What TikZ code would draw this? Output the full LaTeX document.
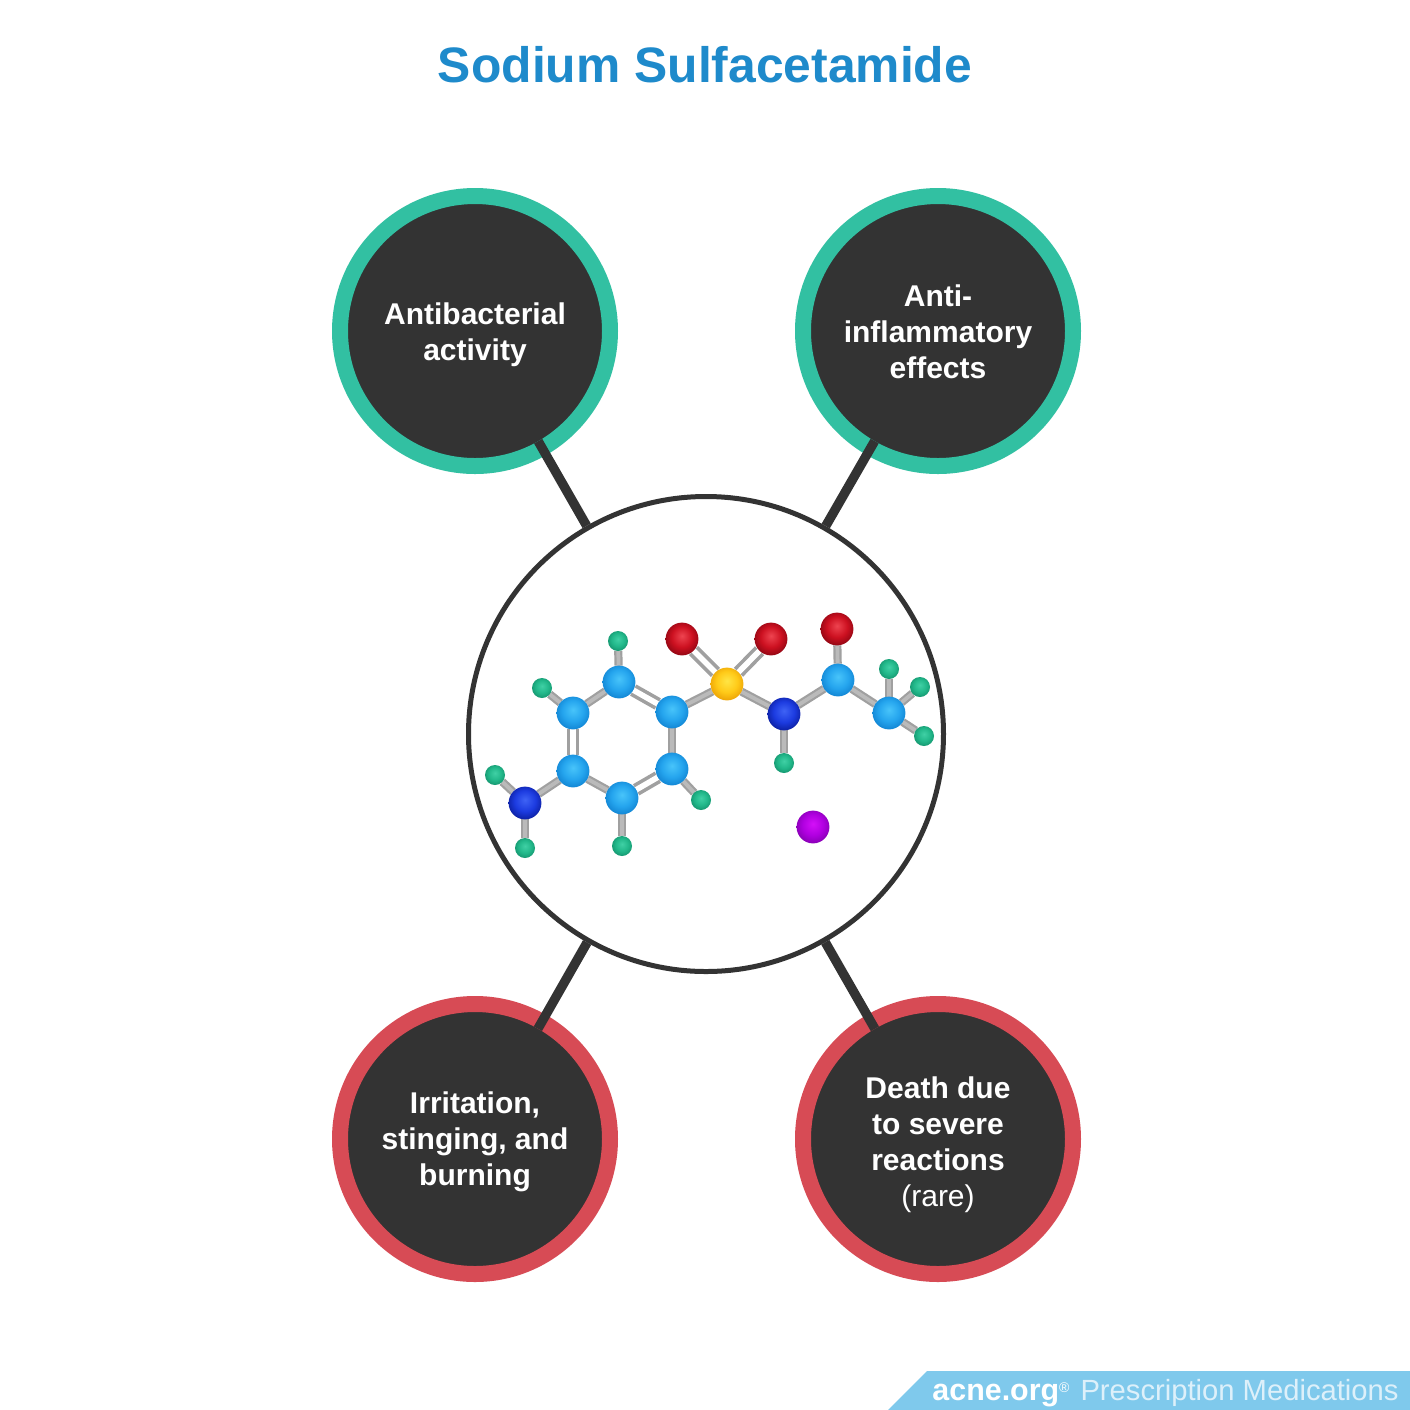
\documentclass[tikz,border=0pt]{standalone}
\usepackage{fontspec}
\setmainfont{Liberation Sans}
\usetikzlibrary{backgrounds}

\definecolor{titleblue}{HTML}{1E8ACB}
\definecolor{ringgreen}{HTML}{32C0A2}
\definecolor{ringred}{HTML}{D74B55}
\definecolor{discdark}{HTML}{333333}
\definecolor{footblue}{HTML}{7FC9EC}
\definecolor{footpale}{HTML}{DDF0FA}
\definecolor{bondgray}{HTML}{A0A0A0}
\definecolor{bondpale}{HTML}{BABABA}

% one shading per element: highlight, body, rim
\newcommand{\defball}[4]{%
  \definecolor{#1hi}{HTML}{#2}\definecolor{#1mid}{HTML}{#3}\definecolor{#1rim}{HTML}{#4}%
  \pgfdeclareradialshading{#1ball}{\pgfpoint{0bp}{5bp}}{%
    color(0bp)=(#1hi); color(16bp)=(#1mid); color(31bp)=(#1rim); color(50bp)=(#1rim)}}
\defball{carbon}{48C4FA}{25A5EE}{0C7CCC}
\defball{nitro}{3F63F5}{1C3BE0}{081890}
\defball{oxy}{EE4450}{CC1020}{800410}
\defball{sulf}{FFE545}{FFCA18}{E89800}
\defball{hydro}{40D0A5}{22B88A}{128C68}
\defball{sodium}{D410F8}{B000E0}{7C00A8}

\tikzset{
  discnode/.style={circle, fill=discdark, line width=8pt, minimum size=135pt, inner sep=0pt},
  goodring/.style={discnode, draw=ringgreen},
  badring/.style={discnode, draw=ringred},
  effect/.style={text=white, align=center, font=\fontsize{15}{18}\selectfont\bfseries},
  link/.style={draw=discdark, line width=4.7pt, shorten >=-8pt},
  atom/.style={circle, inner sep=0pt, outer sep=0pt, minimum size=16.4pt, shading=#1ball},
  hatom/.style={circle, inner sep=0pt, outer sep=0pt, minimum size=10pt, shading=hydroball},
  bondone/.style={draw=bondgray, line width=1.1pt, double=bondpale, double distance=1.9pt},
  bondtwo/.style={draw=bondgray, line width=1.8pt, double=white, double distance=2.8pt}
}

\begin{document}
\begin{tikzpicture}[x=0.5pt, y=-0.5pt]
  \useasboundingbox (0,0) rectangle (1410,1410);

  % Title
  \node[text=titleblue, font=\fontsize{24.9}{28}\selectfont\bfseries] (title) at (705,65) {Sodium Sulfacetamide};

  % Central circle
  \node[circle, draw=discdark, line width=2.5pt, minimum size=237.5pt, inner sep=0pt] (hub) at (706,734) {};

  % Effects
  \node[goodring] (antibac) at (475,331) {};
  \node[goodring] (antiinf) at (938,331) {};
  \node[badring] (irritate) at (475,1139) {};
  \node[badring] (death) at (938,1139) {};

  % Links
  \draw[link] (hub) -- (antibac);
  \draw[link] (hub) -- (antiinf);
  \draw[link] (hub) -- (irritate);
  \draw[link] (hub) -- (death);

  % Effect texts
  \node[effect] (antibactext) at (475,335) {Antibacterial\\activity};
  \node[effect] (antiinftext) at (938,332) {Anti-\\inflammatory\\effects};
  \node[effect] (irritatetext) at (475,1142) {Irritation,\\stinging, and\\burning};
  \node[effect] (deathtext) at (938,1145) {Death due\\to severe\\reactions\\{\normalfont (rare)}};

  % Benzene ring
  \node[atom=carbon] (ca) at (619,682) {};
  \node[atom=carbon] (cb) at (573,713) {};
  \node[atom=carbon] (cc) at (672,712) {};
  \node[atom=carbon] (cd) at (573,771) {};
  \node[atom=carbon] (ce) at (672,769) {};
  \node[atom=carbon] (cf) at (622,798) {};

  % Amine
  \node[atom=nitro] (na) at (525,803) {};
  \node[hatom] (hna) at (495,775) {};
  \node[hatom] (hnb) at (525,848) {};

  % Ring hydrogens
  \node[hatom] (ha) at (618,641) {};
  \node[hatom] (hb) at (542,688) {};
  \node[hatom] (he) at (701,800) {};
  \node[hatom] (hf) at (622,846) {};

  % Sulfonyl
  \node[atom=sulf] (sul) at (727,684) {};
  \node[atom=oxy] (oa) at (682,639) {};
  \node[atom=oxy] (ob) at (771,639) {};

  % Amide and methyl
  \node[atom=nitro] (nb) at (784,714) {};
  \node[hatom] (hnc) at (784,763) {};
  \node[atom=carbon] (cg) at (838,680) {};
  \node[atom=oxy] (oc) at (837,629) {};
  \node[atom=carbon] (ch) at (889,713) {};
  \node[hatom] (hma) at (889,669) {};
  \node[hatom] (hmb) at (920,687) {};
  \node[hatom] (hmc) at (924,736) {};

  % Sodium
  \node[atom=sodium] (sod) at (813,827) {};

  % Footer
  \fill[footblue] (927,1371) -- (1410,1371) -- (1410,1410) -- (888,1410) -- cycle;
  \node[anchor=base east, inner sep=0pt, text=footpale, font=\fontsize{14.6}{16}\selectfont] (brand) at (1399,1400)
    {{\color{white}\fontsize{15.2}{16}\selectfont\bfseries acne.org}{\color{white}\fontsize{7}{7}\selectfont\raisebox{0.95ex}{®}}\hspace{5.5pt}Prescription Medications};

  \begin{scope}[on background layer]
    \fill[white] (0,0) rectangle (1410,1410);

    % Single bonds
    \foreach \from/\to in {ca/cb, cc/ce, cd/cf, cd/na, na/hna, na/hnb, ca/ha, cb/hb, ce/he, cf/hf,
        cc/sul, sul/nb, nb/hnc, nb/cg, cg/ch, ch/hma, ch/hmb, ch/hmc, cg/oc}
      \draw[bondone] (\from) -- (\to);

    % Double bonds
    \foreach \from/\to in {ca/cc, cb/cd, ce/cf, sul/oa, sul/ob}
      \draw[bondtwo] (\from) -- (\to);
  \end{scope}
\end{tikzpicture}
\end{document}
